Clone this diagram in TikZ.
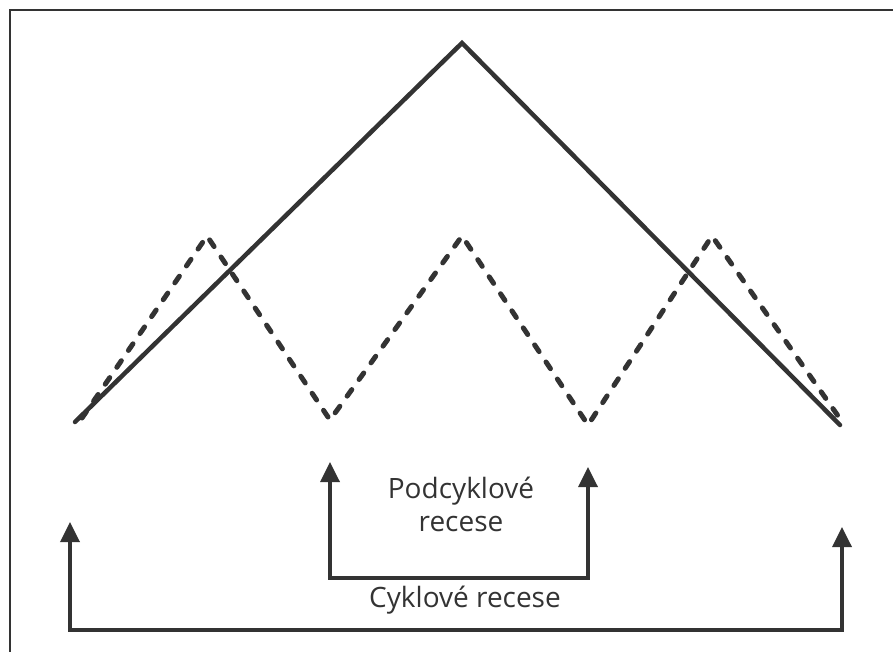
\documentclass[tikz,border=0pt]{standalone}
\usepackage{fontspec}
\setmainfont{Open Sans}
\usetikzlibrary{arrows.meta}
\definecolor{ink}{HTML}{333333}
\tikzset{
  solidline/.style={draw=ink, line width=4.5pt, line join=miter, line cap=round},
  dashline/.style={draw=ink, line width=5pt, line cap=round, dash pattern=on 8pt off 12.5pt},
  bracket/.style={draw=ink, line width=3.5pt, -{Triangle[length=20pt,width=19pt]}},
  lbl/.style={text=ink, font=\fontsize{28}{33}\selectfont, align=center, inner sep=0pt},
}
\begin{document}
\begin{tikzpicture}[x=1pt,y=-1pt]
\useasboundingbox (0,0) rectangle (893,652);
\draw[black!80, line width=1.8pt] (10,660) -- (10,10) -- (900,10);
% solid big cycle
\coordinate (s0) at (75,422);
\coordinate (s1) at (462,43);
\coordinate (s2) at (840,425);
\draw[solidline] (s0) -- (s1) -- (s2);
% dashed sub-cycles
\coordinate (d0) at (82,418);
\coordinate (d1) at (207,236);
\coordinate (d2) at (330,420);
\coordinate (d3) at (462,236);
\coordinate (d4) at (588,425);
\coordinate (d5) at (712,236);
\coordinate (d6) at (843,423);
\draw[dashline] (d0) -- (d1) -- (d2) -- (d3) -- (d4) -- (d5) -- (d6);
% small bracket
\coordinate (a1) at (330,578);
\coordinate (a1t) at (330,462);
\coordinate (a2) at (588,578);
\coordinate (a2t) at (588,467);
\draw[bracket] (a1) -- (a1t);
\draw[bracket] (a2) -- (a2t);
\draw[draw=ink, line width=3.5pt, line cap=rect] (a1) -- (a2);
\node[lbl] (sub) at (461,504) {Podcyklové\\recese};
% large bracket
\coordinate (b1) at (70,630);
\coordinate (b1t) at (70,522);
\coordinate (b2) at (842,630);
\coordinate (b2t) at (842,527);
\draw[bracket] (b1) -- (b1t);
\draw[bracket] (b2) -- (b2t);
\draw[draw=ink, line width=3.5pt, line cap=rect] (b1) -- (b2);
\node[lbl] (cyc) at (465,600) {Cyklové recese};
\end{tikzpicture}
\end{document}
